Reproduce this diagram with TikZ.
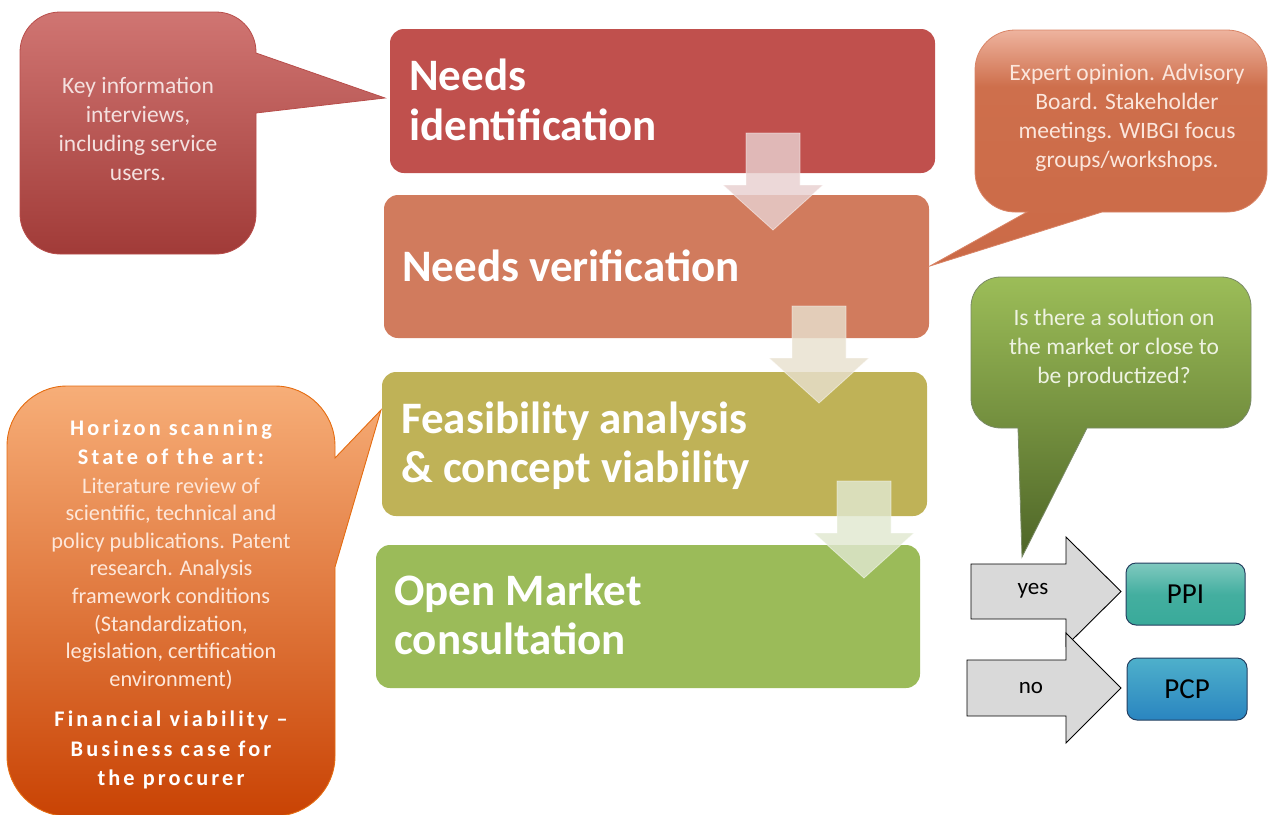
\documentclass[tikz,border=0pt]{standalone}
\usepackage{fontspec}
\setmainfont{Carlito}
\newfontfamily\spacedfont{Carlito}[LetterSpace=14]
\definecolor{boxa}{HTML}{C0504D}
\definecolor{boxb}{HTML}{D17B5D}
\definecolor{boxc}{HTML}{BFB257}
\definecolor{boxd}{HTML}{9BBB59}
\definecolor{arra}{HTML}{E8D0CF}
\definecolor{arrb}{HTML}{E8E0CE}
\definecolor{arrc}{HTML}{E0E8D0}
\definecolor{redtop}{HTML}{D07572}
\definecolor{redbot}{HTML}{A13B38}
\definecolor{redline}{HTML}{B84D4A}
\definecolor{redtxt}{HTML}{F4E0DF}
\definecolor{ortop}{HTML}{EEB39E}
\definecolor{ormid}{HTML}{CE6F4C}
\definecolor{orbot}{HTML}{CB6A47}
\definecolor{orline}{HTML}{D98466}
\definecolor{ortxt}{HTML}{FBE6DC}
\definecolor{grtop}{HTML}{9CBD58}
\definecolor{grbot}{HTML}{4E6527}
\definecolor{grline}{HTML}{7A8A66}
\definecolor{grtxt}{HTML}{EEF3E2}
\definecolor{lotop}{HTML}{F7AE78}
\definecolor{lobot}{HTML}{C94304}
\definecolor{loline}{HTML}{E56C10}
\definecolor{lotxt}{HTML}{FDE7DA}
\definecolor{arrgray}{HTML}{D9D9D9}
\definecolor{navy}{HTML}{243F60}
\definecolor{ppitop}{HTML}{80C9BF}
\definecolor{ppibot}{HTML}{39AA9A}
\definecolor{pcptop}{HTML}{4EB0CB}
\definecolor{pcpbot}{HTML}{2A85C0}
\pgfdeclareverticalshading{orshade}{100bp}{color(0bp)=(orbot); color(25bp)=(orbot); color(63bp)=(ormid); color(75bp)=(ortop); color(100bp)=(ortop)}
\newcommand\mydownarrow[3]{%
  \path[dnarrow, fill=#3] (#1-27,#2) -- (#1+27,#2) -- (#1+27,#2+52) -- (#1+50,#2+52)
    -- (#1,#2+97) -- (#1-50,#2+52) -- (#1-27,#2+52) -- cycle;}
\begin{document}
\begin{tikzpicture}[x=1pt,y=-1pt,
  stepbox/.style={rounded corners=14pt, minimum width=545pt, minimum height=144pt, inner sep=0pt, draw=none},
  boxtitle/.style={anchor=base west, text=white, font=\bfseries\fontsize{45}{50}\selectfont, inner sep=0pt},
  calltext/.style={align=center, font=\fontsize{23.5}{29}\selectfont, inner sep=0pt},
  dnarrow/.style={draw=white, line width=0.8pt, fill opacity=0.82, draw opacity=0.5},
  blockarrow/.style={draw=black, line width=0.9pt, fill=arrgray},
  outbox/.style={rounded corners=10pt, draw=navy, line width=1pt, minimum width=119pt, minimum height=62pt, inner sep=0pt, font=\fontsize{29}{34}\selectfont}
]
\useasboundingbox (0,0) rectangle (1268,814);

% main process boxes
\node[stepbox, fill=boxa] (b1) at (662.5,101) {};
\node[stepbox, fill=boxb, minimum height=143pt] (b2) at (656.5,266.5) {};
\node[stepbox, fill=boxc] (b3) at (654.5,444) {};
\node[stepbox, fill=boxd, minimum width=544pt, minimum height=143pt] (b4) at (648,616.5) {};

\node[boxtitle] (t1a) at (409,90) {Needs};
\node[boxtitle] (t1b) at (409,140) {identification};
\node[boxtitle] (t2) at (402,281) {Needs verification};
\node[boxtitle] (t3a) at (401,433) {Feasibility analysis};
\node[boxtitle] (t3b) at (401,482) {\& concept viability};
\node[boxtitle] (t4a) at (394,605) {Open Market};
\node[boxtitle] (t4b) at (394,654) {consultation};

% down arrows
\mydownarrow{773}{133}{arra}
\mydownarrow{819}{306}{arrb}
\mydownarrow{864}{481}{arrc}

% red callout (top left)
\path[draw=redline, line width=0.8pt, top color=redtop, bottom color=redbot]
  (60,12) -- (216,12) .. controls (238,12) and (256,30) .. (256,52)
  -- (256,53) -- (385,98) -- (256,113)
  -- (256,214) .. controls (256,236) and (238,254) .. (216,254)
  -- (60,254) .. controls (38,254) and (20,236) .. (20,214)
  -- (20,52) .. controls (20,30) and (38,12) .. (60,12) -- cycle;
\node[calltext, text=redtxt] (c1) at (138,129) {Key information\\interviews,\\including service\\users.};

% orange callout (top right)
\path[draw=orline, line width=0.8pt, shading=orshade]
  (1015,30) -- (1227,30) .. controls (1249,30) and (1267,48) .. (1267,70)
  -- (1267,172) .. controls (1267,194) and (1249,212) .. (1227,212)
  -- (1102,212) -- (930,266) -- (1027,212)
  -- (1015,212) .. controls (993,212) and (975,194) .. (975,172)
  -- (975,70) .. controls (975,48) and (993,30) .. (1015,30) -- cycle;
\node[calltext, text=ortxt] (c2) at (1127,117.5) {Expert opinion. Advisory\\Board. Stakeholder\\meetings. WIBGI focus\\groups/workshops.};

% green callout (right)
\path[draw=grline, line width=0.8pt, top color=grtop, bottom color=grbot]
  (1001,277) -- (1221,277) .. controls (1238,277) and (1251,290) .. (1251,307)
  -- (1251,398) .. controls (1251,415) and (1238,428) .. (1221,428)
  -- (1087,428) -- (1022,557) -- (1018,428)
  -- (1001,428) .. controls (984,428) and (971,415) .. (971,398)
  -- (971,307) .. controls (971,290) and (984,277) .. (1001,277) -- cycle;
\node[calltext, text=grtxt] (c3) at (1114,348) {Is there a solution on\\the market or close to\\be productized?};

% orange callout (bottom left)
\path[draw=loline, line width=0.9pt, top color=lotop, bottom color=lobot]
  (67,386) -- (275,386) .. controls (308,386) and (335,413) .. (335,446)
  -- (335,458) -- (381,410) -- (335,567)
  -- (335,756) .. controls (335,789) and (308,816) .. (275,816)
  -- (67,816) .. controls (34,816) and (7,789) .. (7,756)
  -- (7,446) .. controls (7,413) and (34,386) .. (67,386) -- cycle;
\node[align=center, inner sep=0pt, text=white, font=\spacedfont\bfseries\fontsize{22.3}{29}\selectfont] (c4a) at (171,442.5) {Horizon scanning\\State of the art:};
\node[calltext, text=lotxt, font=\fontsize{22.3}{27.6}\selectfont] (c4b) at (171,583.5) {Literature review of\\scientific, technical and\\policy publications. Patent\\research. Analysis\\framework conditions\\(Standardization,\\legislation, certification\\environment)};
\node[align=center, inner sep=0pt, text=white, font=\spacedfont\bfseries\fontsize{22.3}{29.5}\selectfont] (c4c) at (171,750) {Financial viability –\\Business case for\\the procurer};

% yes / no block arrows
\path[blockarrow] (971,564) -- (1066,564) -- (1066,537) -- (1121,591.5) -- (1066,646) -- (1066,619) -- (971,619) -- cycle;
\node[font=\fontsize{23}{28}\selectfont] (yes) at (1033,591) {yes};
\path[blockarrow] (967,660) -- (1066,660) -- (1066,633) -- (1121,688) -- (1066,743) -- (1066,716) -- (967,716) -- cycle;
\node[font=\fontsize{23}{28}\selectfont] (no) at (1031,688) {no};

% outcome boxes
\node[outbox, top color=ppitop, bottom color=ppibot, middle color=ppibot!85!ppitop] (ppi) at (1185.5,594) {PPI};
\node[outbox, top color=pcptop, bottom color=pcpbot, minimum width=120pt] (pcp) at (1187,689) {PCP};
\end{tikzpicture}
\end{document}
